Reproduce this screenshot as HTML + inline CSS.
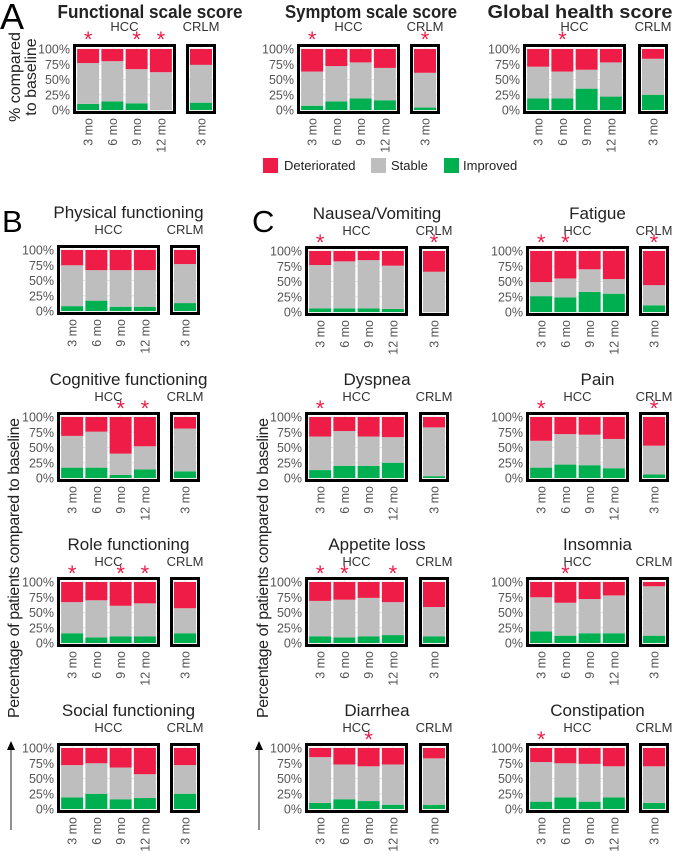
<!DOCTYPE html>
<html><head><meta charset="utf-8">
<style>
html,body{margin:0;padding:0;background:#fff;}
svg{display:block;font-family:"Liberation Sans",Arial,sans-serif;}
</style></head>
<body>
<svg id="fig" width="676" height="851" viewBox="0 0 676 851" xmlns="http://www.w3.org/2000/svg">
<text x="0" y="29" font-size="36" fill="#000">A</text>
<text x="2" y="232" font-size="31" fill="#000">B</text>
<text x="252" y="232" font-size="31" fill="#000">C</text>
<text transform="translate(20,77) rotate(-90)" text-anchor="middle" font-size="16" fill="#222">% compared</text>
<text transform="translate(36,77) rotate(-90)" text-anchor="middle" font-size="16" fill="#222">to baseline</text>
<text transform="translate(19,568) rotate(-90)" text-anchor="middle" font-size="16" textLength="300" fill="#222">Percentage of patients compared to baseline</text>
<text transform="translate(268,568) rotate(-90)" text-anchor="middle" font-size="16" textLength="300" fill="#222">Percentage of patients compared to baseline</text>
<g><line x1="11" y1="830" x2="11" y2="748" stroke="#555" stroke-width="1.3"/><polygon points="11,741 7,750 15,750" fill="#000"/></g>
<g><line x1="259" y1="830" x2="259" y2="748" stroke="#555" stroke-width="1.3"/><polygon points="259,741 255,750 263,750" fill="#000"/></g>
<g>
<rect x="263" y="158" width="15" height="15" fill="#ee1c46"/>
<text x="284" y="170" font-size="13" fill="#222">Deteriorated</text>
<rect x="371" y="158" width="15" height="15" fill="#bebebe"/>
<text x="391" y="170" font-size="13" fill="#222">Stable</text>
<rect x="444" y="158" width="15" height="15" fill="#00b050"/>
<text x="463" y="170" font-size="13" fill="#222">Improved</text>
</g>
<g id="panels"></g>
</svg>
<script>
const categories = ['3 mo','6 mo','9 mo','12 mo'];
const crlmCategories = ['3 mo'];
const yTicks = [0,25,50,75,100];
const tickLabels = ['0%','25%','50%','75%','100%'];
const panelTitles = ['Functional scale score','Symptom  scale score','Global health score','Physical functioning','Cognitive functioning','Role functioning','Social functioning','Nausea/Vomiting','Dyspnea','Appetite loss','Diarrhea','Fatigue','Pain','Insomnia','Constipation'];
// improved %, per panel: 4 HCC timepoints then CRLM
const improved = [
 [10,14,11,0,12],[7,14,19,16,4],[19,19,35,22,25],
 [8,17,7,7,13],[17,17,5,14,11],[16,9,11,11,16],[19,25,16,18,25],
 [6,6,6,5,0],[13,20,20,25,3],[11,9,11,13,11],[10,16,13,7,7],
 [26,24,33,30,11],[17,22,21,16,6],[19,12,16,16,12],[12,19,12,19,10]
];
// deteriorated %, per panel
const deteriorated = [
 [23,20,33,38,26],[37,28,22,31,39],[29,37,34,22,16],
 [25,33,33,33,23],[31,24,60,48,19],[33,30,39,35,43],[28,25,32,43,28],
 [23,17,15,24,34],[32,23,32,33,17],[31,29,26,33,41],[15,27,30,27,17],
 [51,45,30,46,56],[39,28,29,36,47],[25,34,28,22,7],[23,25,26,30,30]
];
// significance stars: index 0-3 HCC, 4 CRLM
const stars = [[0,2,3],[0,4],[1],[],[2,3],[0,2,3],[],[0,4],[0],[0,1,3],[2],[0,1,4],[0,4],[1],[0]];

const layout = [
 [73,186,44,1],[297,410,44,1],[523,638,44,1],
 [57,170,245,0],[57,170,412,0],[57,170,577,0],[57,170,743,0],
 [305,419,246,0],[305,419,412,0],[305,419,577,0],[305,419,743,0],
 [526,639,246,0],[526,639,412,0],[526,639,577,0],[526,639,743,0]
];
const aTitleCenters=[150,371,580];
const aTitleLens=[185,172,185];
const NS='http://www.w3.org/2000/svg';
const root=document.getElementById('panels');
function mk(tag,attrs,parent,txt){const e=document.createElementNS(NS,tag);for(const k in attrs)e.setAttribute(k,attrs[k]);if(txt!==undefined)e.textContent=txt;parent.appendChild(e);return e;}
const COLORS={det:'#ee1c46',stab:'#bebebe',imp:'#00b050'};
const BW=103,BH=70,CW=30;

panelTitles.forEach(function(title,p){
  const L=layout[p];const hx=L[0],cx=L[1],top=L[2],isA=L[3];
  const g=mk('g',{},root);
  
  
  const y=function(v){return top+5+(1-v/100)*61;};
  const midAll=(hx+cx+CW)/2;
  let t;
  if(isA){
    t=mk('text',{x:aTitleCenters[p],y:18,'text-anchor':'middle','font-size':18,'font-weight':'bold',fill:'#222',textLength:aTitleLens[p],lengthAdjust:'spacingAndGlyphs'},g,title);
  } else {
    t=mk('text',{x:midAll,y:top-27,'text-anchor':'middle','font-size':17,fill:'#222'},g,title);
  }
  
  
  const h1=mk('text',{x:hx+BW/2,y:isA?31:top-11,'text-anchor':'middle','font-size':13,fill:'#333'},g,'HCC');
  
  
  const h2=mk('text',{x:cx+CW/2,y:isA?31:top-11,'text-anchor':'middle','font-size':13,fill:'#333'},g,'CRLM');
  
  
  yTicks.forEach(function(v,i){
    const tl=mk('text',{x:hx-3,y:y(v)+4.5,'text-anchor':'end','font-size':12.5,fill:'#555'},g,tickLabels[i]);
    
    
  });
  const groups=[{x:hx,w:BW,cats:categories,off:0,name:'hcc'},{x:cx,w:CW,cats:crlmCategories,off:4,name:'crlm'}];
  groups.forEach(function(G){
    const band=(G.w-6)/G.cats.length;
    yTicks.forEach(function(v){mk('line',{x1:G.x+3,x2:G.x+G.w-3,y1:y(v),y2:y(v),stroke:'#e6e6e6','stroke-width':1},g);});
    G.cats.forEach(function(c,i){
      const idx=G.off+i;
      const cxm=G.x+3+band*(i+0.5);
      mk('line',{x1:cxm,x2:cxm,y1:top+3,y2:top+BH-3,stroke:'#e6e6e6','stroke-width':1},g);
      const bw=22,bx=cxm-bw/2;
      const imp=improved[p][idx],det=deteriorated[p][idx];
      const r1=mk('rect',{x:bx,y:y(imp),width:bw,height:y(0)-y(imp),fill:COLORS.imp},g);
      
      
      const r2=mk('rect',{x:bx,y:y(100-det),width:bw,height:y(imp)-y(100-det),fill:COLORS.stab},g);
      
      
      const r3=mk('rect',{x:bx,y:y(100),width:bw,height:y(100-det)-y(100),fill:COLORS.det},g);
      
      
      const xl=mk('text',{transform:'translate('+(cxm+4.5)+','+(top+BH+4)+') rotate(-90)','text-anchor':'end','font-size':12.5,fill:'#555'},g,c);
      
      
      if(stars[p].indexOf(idx)>=0){
        const s=mk('text',{x:cxm,y:isA?47:top+4,'text-anchor':'middle','font-size':22,fill:'#ee1c46'},g,'*');
        
        
      }
    });
    const fr=mk('rect',{x:G.x+1.5,y:top+1.5,width:G.w-3,height:BH-3,fill:'none',stroke:'#000','stroke-width':3},g);
    
    
  });
});
</script>
</body></html>
